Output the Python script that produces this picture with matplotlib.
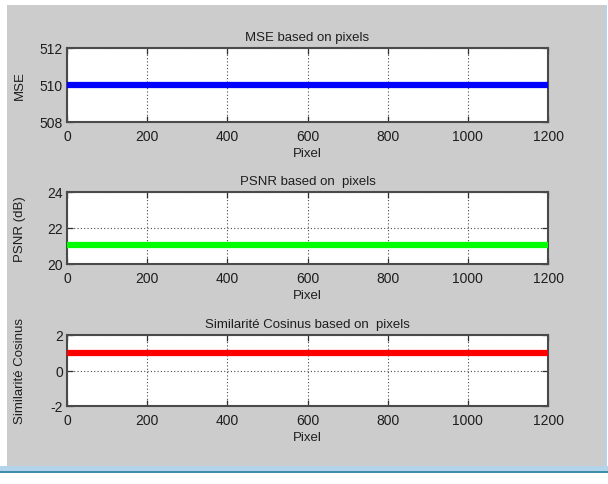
import matplotlib
matplotlib.use("Agg")
import matplotlib.pyplot as plt
from matplotlib.patches import Rectangle

# Data
pixels = [1, 1200]
mse = [510, 510]
psnr = [21.05, 21.05]
cosine = [1, 1]

xticks = [0, 200, 400, 600, 800, 1000, 1200]
mse_yticks = [508, 510, 512]
psnr_yticks = [20, 22, 24]
cos_yticks = [-2, 0, 2]

titles = ["MSE based on pixels", "PSNR based on  pixels", "Similarité Cosinus based on  pixels"]
ylabels = ["MSE", "PSNR (dB)", "Similarité Cosinus"]
series = [mse, psnr, cosine]
yticks_list = [mse_yticks, psnr_yticks, cos_yticks]
colors = ["#0000ff", "#00ff00", "#ff0000"]

plt.rcParams['font.family'] = ['Liberation Sans', 'DejaVu Sans']

W, H = 608, 485
fig = plt.figure(figsize=(W / 100, H / 100), dpi=100, facecolor="white")

def fx(px):
    return px / W

def fy(py):
    return 1 - py / H

def rect(x0, y0, x1, y1, color):
    fig.patches.append(Rectangle((fx(x0), fy(y1)), fx(x1) - fx(x0), fy(y0) - fy(y1),
                                 transform=fig.transFigure, facecolor=color,
                                 edgecolor="none", zorder=-10))

# gray figure panel and window border
rect(7, 6, 605, 467, "#cccccc")
rect(0, 467, 608, 472, "#b4d4ec")
rect(0, 472, 608, 474, "#3d8ea6")
rect(605, 6, 607, 467, "#b4d4ec")

boxes = [(49, 123), (193, 265), (336, 407)]
left, right = 67, 548
txt = "#1e1e1e"

for i in range(3):
    top, bot = boxes[i]
    ax = fig.add_axes([fx(left), fy(bot), fx(right) - fx(left), fy(top) - fy(bot)])
    ax.set_facecolor("white")
    ax.plot(pixels, series[i], color=colors[i], linewidth=4.5, solid_capstyle="butt", zorder=3)
    ax.set_xlim(0, 1200)
    yt = yticks_list[i]
    ax.set_ylim(yt[0], yt[-1])
    ax.set_xticks(xticks)
    ax.set_yticks(yt)
    ax.set_xticklabels([str(v) for v in xticks])
    ax.set_yticklabels([str(v) for v in yt])
    ax.grid(True, linestyle=(0, (1, 2)), color="#4a4a4a", linewidth=0.8)
    ax.tick_params(direction="in", length=4, width=0.9, color="#303030",
                   top=True, right=True, labelsize=10, labelcolor=txt)
    ax.tick_params(axis="x", pad=5)
    ax.tick_params(axis="y", pad=3)
    for s in ax.spines.values():
        s.set_color("#4a4a4a")
        s.set_linewidth(1.5)
    ax.set_title(titles[i], fontsize=9.5, color=txt, pad=6)
    ax.set_xlabel("Pixel", fontsize=9.5, color=txt, labelpad=3)
    ax.set_ylabel(ylabels[i], fontsize=9.5, color=txt)
    ax.yaxis.set_label_coords((26 - left) / (right - left), 0.5)

fig.savefig("out.png", dpi=100, facecolor="white")
